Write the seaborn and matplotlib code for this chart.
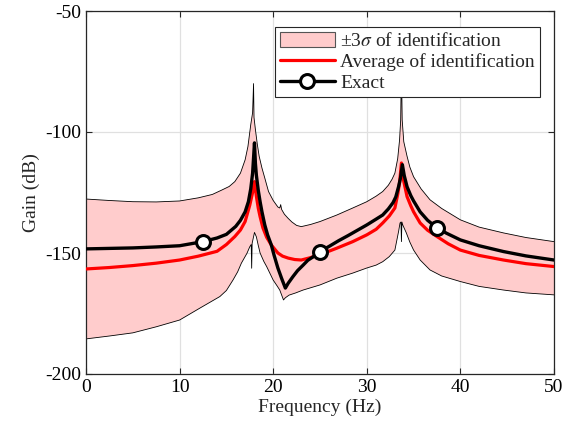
import numpy as np
import pandas as pd
import matplotlib
matplotlib.use("Agg")
import matplotlib.pyplot as plt
from matplotlib.patches import Patch
from matplotlib.lines import Line2D
import seaborn as sns

# Exact frequency response of the structure (Hz, dB)
freq_exact = [0, 2.5, 5, 7.5, 10, 12.5, 14, 15, 16, 16.5, 17, 17.35, 17.6, 17.8, 18.0,
              18.1, 18.2, 18.4, 18.6, 18.8, 19.1, 19.4, 19.8, 20.1, 20.5, 20.9, 21.3,
              21.6, 22.1, 22.6, 23.2, 23.7, 24.3, 25, 26, 27, 28, 29, 30, 31, 31.7,
              32.3, 32.8, 33.1, 33.4, 33.6, 33.8, 34.0, 34.3, 34.7, 35.0, 35.7, 36.5,
              37.5, 38.5, 40, 42, 44.6, 47, 50]
gain_exact = [-148.3, -148.1, -147.9, -147.5, -147.0, -145.3, -143.8, -142.3, -139.0,
              -136.5, -133.0, -128.8, -123.5, -117.0, -104.5, -113.0, -117.8, -124.0,
              -128.8, -133.0, -138.4, -142.5, -146.7, -151.0, -156.2, -160.5, -164.5,
              -162.5, -159.8, -157.3, -155.0, -153.0, -151.5, -149.4, -147.2, -144.9,
              -142.8, -140.6, -138.4, -136.0, -134.3, -131.8, -129.2, -126.8, -122.5,
              -119.0, -113.5, -118.0, -122.6, -126.3, -128.5, -133.0, -136.5, -139.6,
              -141.8, -144.6, -147.0, -149.4, -151.2, -152.9]
marker_freqs = [12.5, 25, 37.5]

# Mean of the identified responses
freq_avg = [0, 2.5, 5, 7.5, 10, 12, 14, 15, 15.9, 16.5, 17.0, 17.5, 17.8, 18.0, 18.2,
            18.4, 18.6, 18.9, 19.3, 19.8, 20.5, 21.0, 21.6, 22.3, 23.0, 24, 25, 26,
            26.8, 28.5, 30, 31, 31.7, 32.4, 33, 33.3, 33.5, 33.7, 33.9, 34.3, 34.7,
            35.0, 35.7, 36.5, 37.5, 38.7, 40, 42, 44.6, 47, 50]
gain_avg = [-156.6, -156.0, -155.2, -154.2, -152.9, -151.3, -149.3, -146.5, -143.2,
            -140.5, -137.0, -130.2, -125.0, -120.5, -126.5, -131.4, -135.0, -139.6,
            -143.5, -146.7, -150.0, -151.3, -152.1, -152.7, -152.9, -151.9, -150.4,
            -149.2, -148.0, -145.3, -142.5, -140.2, -137.6, -134.7, -131.4, -125.8,
            -121.0, -112.8, -119.5, -126.7, -130.5, -133.0, -137.6, -140.6, -143.2,
            -146.2, -148.8, -151.0, -152.9, -154.4, -155.6]

# Upper edge of the +/-3 sigma band
freq_upper = [0, 2.5, 5, 7.5, 10, 12, 13.5, 14.5, 15.3, 15.9, 16.5, 17.0, 17.3, 17.6,
              17.8, 17.9, 17.95, 18.1, 18.3, 18.5, 18.8, 19.1, 19.5, 20, 20.5, 20.7,
              20.8, 20.9, 21.2, 21.6, 22, 22.5, 23.0, 24, 25, 26, 26.8, 28.5, 30, 31,
              31.7, 32.3, 32.7, 33.0, 33.3, 33.5, 33.62, 33.7, 33.78, 33.95, 34.3,
              34.6, 35, 35.8, 36.75, 38, 40, 42, 44.6, 47, 50]
gain_upper = [-127.7, -128.3, -128.8, -128.9, -128.5, -127.2, -125.8, -124.0, -122.5,
              -120.5, -117.0, -111.5, -106.0, -97.0, -92.0, -80.0, -94.0, -99.0,
              -105.0, -110.0, -114.9, -119.0, -124.6, -128.3, -131.0, -131.4, -130.0,
              -132.0, -134.0, -135.7, -137.2, -138.6, -139.1, -138.2, -137.0, -135.5,
              -134.3, -131.4, -128.8, -126.5, -124.6, -122.0, -119.5, -117.0, -111.0,
              -103.3, -95.0, -72.0, -95.0, -104.0, -110.0, -114.5, -118.5, -123.5,
              -128.0, -131.6, -136.3, -139.3, -141.7, -143.6, -145.3]

# Lower edge of the +/-3 sigma band
freq_lower = [0, 2.5, 5, 7.5, 10, 12.2, 14.3, 15, 15.7, 16.2, 16.6, 17.2, 17.5, 17.65,
              17.7, 17.75, 17.9, 18.0, 18.2, 18.4, 18.6, 19.0, 19.3, 19.7, 20.0, 20.4,
              20.7, 21.1, 21.3, 21.7, 22.4, 23.2, 25, 26.8, 28.5, 30, 31, 31.7, 32.4,
              33.0, 33.4, 33.55, 33.65, 33.7, 33.75, 33.85, 34.2, 34.6, 35.0, 35.7,
              36.75, 38, 40, 42, 44.6, 47, 50]
gain_lower = [-185.5, -184.3, -183.0, -180.5, -177.7, -172.7, -168.0, -165.5, -161.2,
              -157.8, -154.2, -150.1, -147.4, -146.5, -156.3, -146.0, -143.3, -141.5,
              -143.3, -146.8, -150.0, -153.5, -155.6, -158.8, -161.2, -163.5, -165.3,
              -169.4, -168.5, -167.4, -166.5, -165.3, -163.2, -160.4, -158.3, -156.2,
              -155.0, -153.6, -151.5, -148.8, -141.0, -137.6, -137.2, -145.3, -137.2,
              -138.5, -141.5, -145.5, -148.8, -152.9, -157.0, -159.5, -161.8, -163.8,
              -165.3, -166.5, -167.3]

x_ticks = [0, 10, 20, 30, 40, 50]
y_ticks = [-200, -150, -100, -50]

sns.set_theme(style="ticks")
plt.rcParams.update({
    "font.family": ["Liberation Serif", "DejaVu Serif"],
    "mathtext.fontset": "stix",
    "axes.unicode_minus": False,
    "xtick.direction": "in",
    "ytick.direction": "in",
    "xtick.top": True,
    "ytick.right": True,
    "xtick.major.size": 4,
    "ytick.major.size": 4,
})

fig = plt.figure(figsize=(5.75, 4.33), dpi=100)
ax = fig.add_axes([86 / 575, 1 - 374 / 433, 468 / 575, 363 / 433])

band_color = "#ffcccc"
ax.fill(np.concatenate([freq_upper, freq_lower[::-1]]),
        np.concatenate([gain_upper, gain_lower[::-1]]),
        facecolor=band_color, edgecolor="none", zorder=1)
ax.plot(freq_upper, gain_upper, color="black", lw=0.6, zorder=1.6)
ax.plot(freq_lower, gain_lower, color="black", lw=0.6, zorder=1.6)

avg_df = pd.DataFrame({"freq": freq_avg, "gain": gain_avg})
exact_df = pd.DataFrame({"freq": freq_exact, "gain": gain_exact})

sns.lineplot(data=avg_df, x="freq", y="gain", ax=ax, color="red", lw=2.3, zorder=3)
sns.lineplot(data=exact_df, x="freq", y="gain", ax=ax, color="black", lw=2.4,
             marker="o", markersize=10, markerfacecolor="white",
             markeredgecolor="black", markeredgewidth=2.2,
             markevery=[freq_exact.index(f) for f in marker_freqs], zorder=4)

ax.set_xlim(0, 50)
ax.set_ylim(-200, -50)
ax.set_xticks(x_ticks)
ax.set_yticks(y_ticks)
ax.tick_params(labelsize=14, colors="#262626", labelcolor="black", width=0.8)
ax.grid(True, color="#e0e0e0", lw=0.9)
for sp in ax.spines.values():
    sp.set_visible(True)
    sp.set_color("#262626")
    sp.set_linewidth(0.9)

ax.set_xlabel("Frequency (Hz)", fontsize=14, labelpad=2)
ax.set_ylabel("Gain (dB)", fontsize=14, labelpad=4)

handles = [
    Patch(facecolor=band_color, edgecolor="#555555", lw=0.8),
    Line2D([], [], color="red", lw=2.3),
    Line2D([], [], color="black", lw=2.4, marker="o", markersize=10,
           markerfacecolor="white", markeredgecolor="black", markeredgewidth=2.2),
]
labels = ["±3$\\sigma$ of identification", "Average of identification", "Exact"]
leg = ax.legend(handles, labels, loc="upper right", bbox_to_anchor=(0.97, 0.956),
                borderaxespad=0, fontsize=14, frameon=True, fancybox=False,
                framealpha=1, edgecolor="#262626", handlelength=2.8,
                handletextpad=0.3, labelspacing=0.15, borderpad=0.25,
                handleheight=0.8)
leg.get_frame().set_linewidth(0.8)
leg.set_zorder(10)

fig.savefig("out.png", dpi=100)
